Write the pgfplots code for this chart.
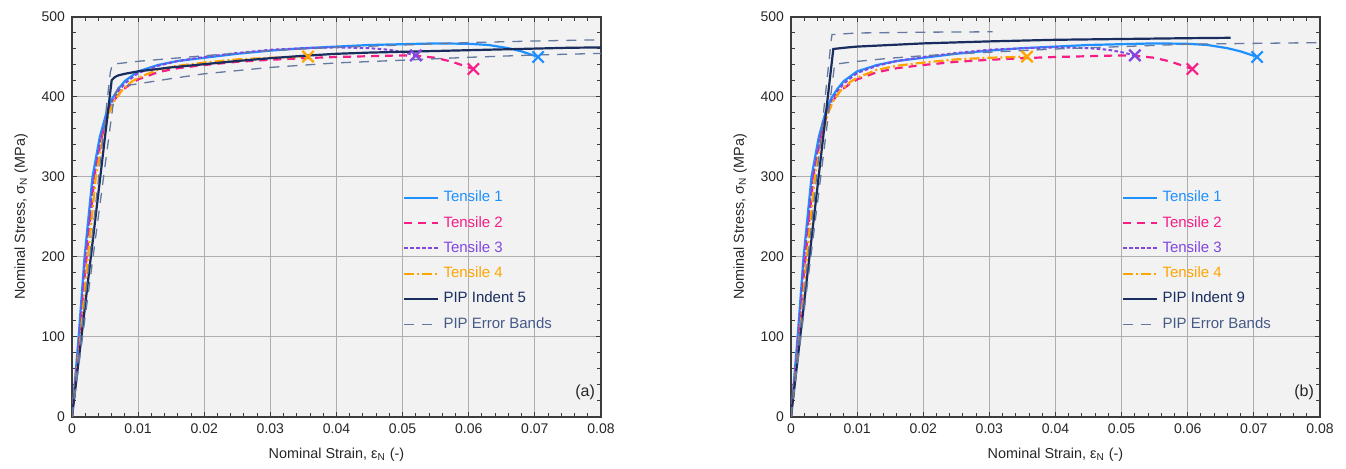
\documentclass[border=0pt]{standalone}
\usepackage{fontspec}
\setmainfont{Liberation Sans}
\usepackage{pgfplots}
\pgfplotsset{compat=1.18}
\definecolor{tone}{RGB}{30,144,255}
\definecolor{ttwo}{RGB}{245,30,135}
\definecolor{tthree}{RGB}{130,70,225}
\definecolor{tfour}{RGB}{255,165,0}
\definecolor{pip}{RGB}{25,45,95}
\definecolor{band}{RGB}{100,120,160}
\definecolor{bandtxt}{RGB}{70,90,135}
\definecolor{bgc}{RGB}{242,242,242}
\definecolor{gridc}{RGB}{175,175,175}
\definecolor{axisc}{RGB}{60,60,60}

\pgfplotsset{
  mystyle/.style={
    scale only axis, width=264.5pt, height=200pt,
    xmin=0, xmax=0.08, ymin=0, ymax=500,
    scaled x ticks=false, scaled y ticks=false,
    xtick={0,0.01,0.02,0.03,0.04,0.05,0.06,0.07,0.08},
    xticklabels={0,0.01,0.02,0.03,0.04,0.05,0.06,0.07,0.08},
    ytick={0,100,200,300,400,500},
    minor x tick num=4, minor y tick num=4,
    grid=major, major grid style={gridc, line width=0.5pt},
    axis background/.style={fill=bgc},
    axis line style={axisc, line width=0.75pt},
    tick style={axisc, line width=0.5pt},
    major tick length=2.5pt, minor tick length=1.8pt,
    tick align=inside,
    /pgf/number format/assume math mode=true,
    ticklabel style={font=\fontsize{7}{8}\selectfont, text=black!85},
    label style={font=\fontsize{7.2}{8.5}\selectfont, text=black!85},
    xlabel={Nominal Strain, ε\textsubscript{N} (-)},
    ylabel={Nominal Stress, σ\textsubscript{N} (MPa)},
    legend style={draw=none, fill=none, at={(0.614,0.586)}, anchor=north west,
      font=\fontsize{7.5}{8.8}\selectfont, row sep=1.7pt},
    legend cell align=left,
  },
  t1/.style={tone, line width=1.1pt},
  t2/.style={ttwo, line width=1.1pt, dash pattern=on 4pt off 3pt},
  t3/.style={tthree, line width=1.0pt, dash pattern=on 1.8pt off 1.2pt},
  t4/.style={tfour, line width=1.1pt, dash pattern=on 5pt off 1.5pt on 1pt off 1.5pt},
  pipst/.style={pip, line width=1.1pt},
  bandst/.style={band, line width=0.65pt, dash pattern=on 5pt off 4pt},
  xm/.style={only marks, mark=x, mark size=4pt, line width=1.1pt, forget plot},
}

\pgfplotstableread{
x y
0 0
0.001 100
0.0019 200
0.0031 300
0.0042 350
0.0052 380
0.006 397
0.007 410
0.008 420
0.01 432
0.013 440
0.016 445
0.02 449
0.025 454
0.03 458
0.035 461
0.04 463
0.045 465
0.05 466
0.055 467
0.06 466.5
0.063 465
0.066 461
0.068 457
0.0705 450
}\tone

\pgfplotstableread{
x y
0 0
0.0012 100
0.0022 200
0.0034 300
0.0045 350
0.0055 380
0.0063 395
0.0075 408
0.009 417
0.01 422
0.013 431
0.016 436
0.02 440
0.025 444
0.03 446.5
0.035 448.5
0.04 450
0.045 451
0.05 452
0.052 451.5
0.055 449
0.0575 444
0.0607 435
}\ttwo

\pgfplotstableread{
x y
0 0
0.0011 100
0.002 200
0.0033 300
0.0044 350
0.0054 380
0.0062 396
0.007 407
0.008 417
0.01 430
0.013 439
0.016 445
0.02 450
0.025 455
0.03 459
0.035 461
0.04 462
0.045 461
0.048 459
0.05 456
0.052 452
}\tthree

\pgfplotstableread{
x y
0 0
0.0013 100
0.0024 200
0.0036 300
0.0047 350
0.0056 380
0.0064 395
0.0075 408
0.009 419
0.01 424
0.013 434
0.016 439
0.02 443
0.025 447
0.03 449
0.0357 450.5
}\tfour

\pgfplotstableread{
x y
0 0
0.006 421
0.0065 425
0.007 427
0.008 429
0.01 432
0.015 437
0.02 441
0.025 445
0.03 448.5
0.035 451.5
0.04 454
0.045 455.5
0.05 456.5
0.055 457.5
0.06 458.5
0.065 459.5
0.07 460.5
0.075 461.5
0.08 462
}\pipfive

\pgfplotstableread{
x y
0 0
0.0058 431
0.0061 441
0.01 444.6
0.02 451.6
0.03 458
0.04 462
0.05 465
0.06 468
0.07 470
0.08 471.5
}\upa

\pgfplotstableread{
x y
0 0
0.0064 402
0.0071 413
0.01 416.5
0.015 423
0.02 429
0.03 437
0.04 442.6
0.05 446
0.06 449.6
0.07 452.5
0.08 454.5
}\lowa

\pgfplotstableread{
x y
0 0
0.0064 460
0.008 461.5
0.01 463
0.015 465
0.02 467
0.03 469.5
0.04 471.5
0.05 472.5
0.06 473.5
0.0665 474
}\pipnine

\pgfplotstableread{
x y
0 0
0.0061 472
0.0062 478
0.01 480
0.02 481
0.0305 481.5
}\upb

\pgfplotstableread{
x y
0 0
0.0066 441
0.01 444.5
0.015 448.5
0.02 451.6
0.03 456
0.04 460
0.05 463
0.06 466
0.07 467
0.08 468
}\lowb

\begin{document}
\begin{tikzpicture}
\path[use as bounding box] (0,0) rectangle (673pt,234.5pt);

% ---------- (a) ----------
\begin{axis}[mystyle, at={(36pt,26pt)}, anchor=south west]
\addplot[t1] table {\tone};
\addlegendentry{\textcolor{tone}{Tensile 1}}
\addplot[t2] table {\ttwo};
\addlegendentry{\textcolor{ttwo}{Tensile 2}}
\addplot[t3] table {\tthree};
\addlegendentry{\textcolor{tthree}{Tensile 3}}
\addplot[t4] table {\tfour};
\addlegendentry{\textcolor{tfour}{Tensile 4}}
\addplot[pipst] table {\pipfive};
\addlegendentry{\textcolor{pip}{PIP Indent 5}}
\addplot[bandst] table {\upa};
\addlegendentry{\textcolor{bandtxt}{PIP Error Bands}}
\addplot[bandst, forget plot] table {\lowa};
\addplot[xm, tone] coordinates {(0.0705,450)};
\addplot[xm, ttwo] coordinates {(0.0607,435)};
\addplot[xm, tthree] coordinates {(0.052,452)};
\addplot[xm, tfour] coordinates {(0.0357,450.5)};
\node[font=\fontsize{8}{9.5}\selectfont, text=black!85] at (axis cs:0.0776,31) {(a)};
\end{axis}

% ---------- (b) ----------
\begin{axis}[mystyle, at={(395.5pt,26pt)}, anchor=south west]
\addplot[t1] table {\tone};
\addlegendentry{\textcolor{tone}{Tensile 1}}
\addplot[t2] table {\ttwo};
\addlegendentry{\textcolor{ttwo}{Tensile 2}}
\addplot[t3] table {\tthree};
\addlegendentry{\textcolor{tthree}{Tensile 3}}
\addplot[t4] table {\tfour};
\addlegendentry{\textcolor{tfour}{Tensile 4}}
\addplot[pipst] table {\pipnine};
\addlegendentry{\textcolor{pip}{PIP Indent 9}}
\addplot[bandst] table {\upb};
\addlegendentry{\textcolor{bandtxt}{PIP Error Bands}}
\addplot[bandst, forget plot] table {\lowb};
\addplot[xm, tone] coordinates {(0.0705,450)};
\addplot[xm, ttwo] coordinates {(0.0607,435)};
\addplot[xm, tthree] coordinates {(0.052,452)};
\addplot[xm, tfour] coordinates {(0.0357,450.5)};
\node[font=\fontsize{8}{9.5}\selectfont, text=black!85] at (axis cs:0.0776,31) {(b)};
\end{axis}
\end{tikzpicture}
\end{document}
